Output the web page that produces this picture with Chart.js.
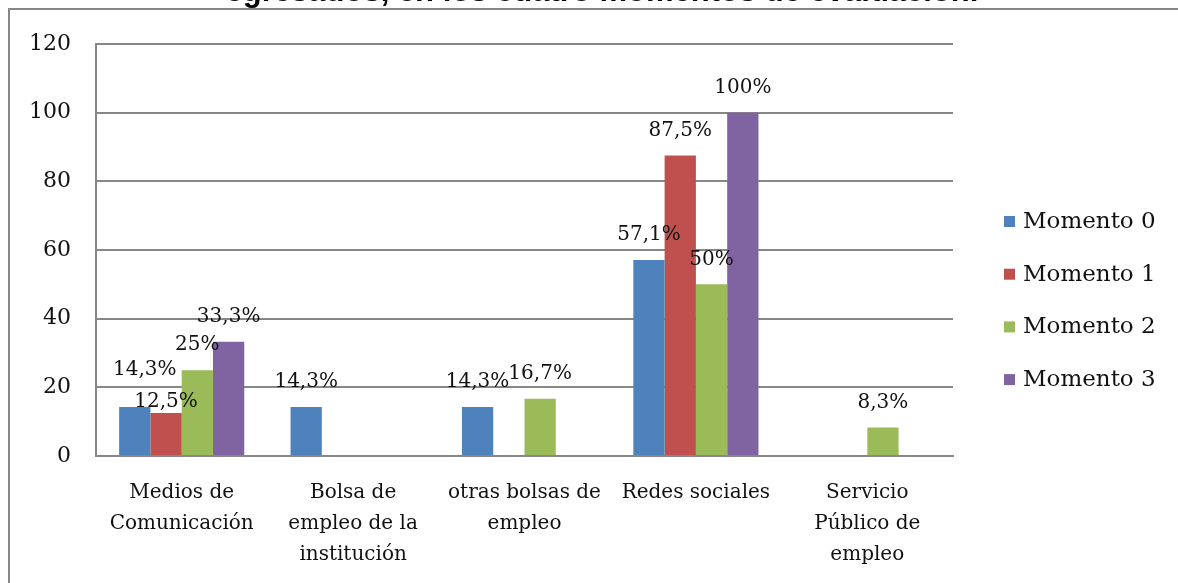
<!DOCTYPE html>
<html>
<head>
<meta charset="utf-8">
<title>Momentos de evaluación</title>
<script src="https://cdn.jsdelivr.net/npm/chart.js@4"></script>
<style>
    html, body {margin: 0; padding: 0; background: #ffffff; overflow: hidden;}
    #wrap {position: relative; width: 1178px; height: 583px;}
</style>
</head>
<body>
<div id="wrap"><canvas id="chart" width="1178" height="583"></canvas></div>
<script>
'use strict';

const categories = [
    ['Medios de', 'Comunicación'],
    ['Bolsa de', 'empleo de la', 'institución'],
    ['otras bolsas de', 'empleo'],
    ['Redes sociales'],
    ['Servicio', 'Público de', 'empleo']
];
const seriesNames = ['Momento 0', 'Momento 1', 'Momento 2', 'Momento 3'];
const momento0    = [14.3, 14.3, 14.3, 57.1, null];
const momento1    = [12.5, null, null, 87.5, null];
const momento2    = [25,   null, 16.7, 50,   8.3];
const momento3    = [33.3, null, null, 100,  null];
const yTicks      = [0, 20, 40, 60, 80, 100, 120];
const titleText   = 'egresados, en los cuatro momentos de evaluación.';

const colors   = ['#4F81BD', '#C0504D', '#9BBB59', '#8064A2'];
const gridGrey = '#878787';
const serif    = "'DejaVu Serif', serif";

/*
 * Outer frame and the cut-off title line.
 */
const framePlugin = {
    id: 'frame',
    beforeDraw(chart) {
        let ctx = chart.ctx;
        ctx.save();
        ctx.strokeStyle = gridGrey;
        ctx.lineWidth   = 2;
        ctx.beginPath();
        ctx.moveTo(9, chart.height);
        ctx.lineTo(9, 9);
        ctx.lineTo(chart.width, 9);
        ctx.stroke();

        ctx.fillStyle    = '#000000';
        ctx.font         = "bold 31px 'Liberation Sans', Arial, sans-serif";
        ctx.textAlign    = 'center';
        ctx.textBaseline = 'alphabetic';
        ctx.fillText(titleText, 602, 1);
        ctx.restore();
    }
};

/*
 * Excel style value labels, a few of them were moved by hand in the original.
 */
const valueLabelPlugin = {
    id: 'valueLabels',
    afterDatasetsDraw(chart, args, opts) {
        let ctx = chart.ctx;
        ctx.save();
        ctx.font         = '20px ' + serif;
        ctx.fillStyle    = '#111111';
        ctx.textAlign    = 'center';
        ctx.textBaseline = 'middle';
        chart.data.datasets.forEach((ds, di) => {
            let meta = chart.getDatasetMeta(di);
            meta.data.forEach((bar, i) => {
                let v = ds.data[i];
                if (v === null) return;
                let nudge = opts.nudges[di + '-' + i] || [0, 0];
                let text  = String(v).replace('.', ',') + '%';
                ctx.fillText(text, bar.x + nudge[0], bar.y - 25 + nudge[1]);
            });
        });
        ctx.restore();
    }
};

/*
 * Legend drawn by hand so it can sit centred on the whole chart like Excel does.
 */
const sideLegendPlugin = {
    id: 'sideLegend',
    afterDraw(chart, args, opts) {
        let ctx = chart.ctx;
        ctx.save();
        ctx.font         = '23px ' + serif;
        ctx.textAlign    = 'left';
        ctx.textBaseline = 'middle';
        chart.data.datasets.forEach((ds, di) => {
            let y = opts.top + di * opts.step;
            ctx.fillStyle = ds.backgroundColor;
            ctx.fillRect(opts.left, y - 6, 11, 11);
            ctx.fillStyle = '#111111';
            ctx.fillText(ds.label, opts.left + 19, y);
        });
        ctx.restore();
    }
};

function makeDatasets() {
    let values = [momento0, momento1, momento2, momento3];
    return values.map((vals, i) => ({
        label:              seriesNames[i],
        data:               vals,
        backgroundColor:    colors[i],
        borderWidth:        0,
        categoryPercentage: 0.73,
        barPercentage:      1.0
    }));
}

new Chart(document.getElementById('chart'), {
    type: 'bar',
    data: {
        labels:   categories,
        datasets: makeDatasets()
    },
    plugins: [framePlugin, valueLabelPlugin, sideLegendPlugin],
    options: {
        responsive: false,
        animation:  false,
        layout: {
            padding: {top: 44, right: 225, bottom: 0, left: 0}
        },
        scales: {
            x: {
                grid:   {display: false, drawTicks: false},
                border: {display: true, color: gridGrey, width: 2},
                ticks: {
                    color:      '#111111',
                    padding:    21,
                    maxRotation: 0,
                    autoSkip:   false,
                    font:       {family: serif, size: 20, lineHeight: 1.55}
                },
                afterFit: function(scale) {
                    scale.height = 127;
                }
            },
            y: {
                min: 0,
                max: 120,
                grid:   {color: gridGrey, lineWidth: 2, drawTicks: false},
                border: {display: true, color: gridGrey, width: 2},
                afterBuildTicks: function(scale) {
                    scale.ticks = yTicks.map(v => ({value: v}));
                },
                ticks: {
                    color:   '#111111',
                    padding: 25,
                    font:    {family: serif, size: 22}
                },
                afterFit: function(scale) {
                    scale.width = 96;
                }
            }
        },
        plugins: {
            legend:  {display: false},
            tooltip: {enabled: false},
            valueLabels: {
                nudges: {'0-0': [10, -12], '1-0': [0, 14]}
            },
            sideLegend: {left: 1004, top: 222, step: 52.7}
        }
    }
});
</script>
</body>
</html>
